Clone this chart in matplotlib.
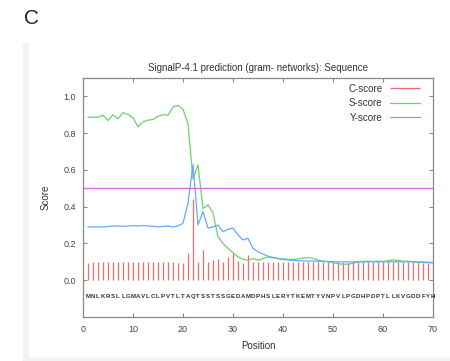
import numpy as np
import matplotlib
matplotlib.use("Agg")
import matplotlib.pyplot as plt
from matplotlib.patches import Rectangle

plt.rcParams['font.family'] = ['Liberation Sans', 'DejaVu Sans']

sequence = "MNLKRSLLGMAVLCLPVTLTAQTSSTSSGEDAMDPHSLERYTKEMTYVNPVLPGDHPDPTLLKVGDDFYH"
positions = list(range(1, 71))

c_score = [0.095, 0.1, 0.1, 0.098, 0.097, 0.1, 0.1, 0.098, 0.1, 0.1,
           0.097, 0.1, 0.1, 0.1, 0.098, 0.1, 0.1, 0.1, 0.092, 0.095,
           0.149, 0.44, 0.1, 0.164, 0.1, 0.109, 0.118, 0.1, 0.124, 0.146,
           0.104, 0.095, 0.137, 0.1, 0.1, 0.098, 0.1, 0.1, 0.1, 0.1,
           0.1, 0.1, 0.1, 0.098, 0.1, 0.1, 0.1, 0.098, 0.1, 0.1,
           0.1, 0.1, 0.1, 0.1, 0.1, 0.098, 0.1, 0.1, 0.1, 0.1,
           0.1, 0.098, 0.1, 0.1, 0.098, 0.097, 0.098, 0.095, 0.095, 0.095]

s_score = [0.887, 0.887, 0.887, 0.898, 0.869, 0.9, 0.878, 0.911, 0.902, 0.884,
           0.834, 0.862, 0.871, 0.874, 0.892, 0.9, 0.898, 0.942, 0.951, 0.93,
           0.85, 0.55, 0.628, 0.39, 0.41, 0.366, 0.237, 0.2, 0.173, 0.149,
           0.128, 0.113, 0.109, 0.118, 0.109, 0.118, 0.127, 0.122, 0.118, 0.116,
           0.114, 0.113, 0.116, 0.12, 0.124, 0.118, 0.11, 0.104, 0.1, 0.095,
           0.09, 0.087, 0.087, 0.092, 0.1, 0.102, 0.104, 0.102, 0.104, 0.102,
           0.106, 0.11, 0.108, 0.104, 0.104, 0.1, 0.098, 0.096, 0.095, 0.095]

y_score = [0.29, 0.29, 0.29, 0.29, 0.292, 0.295, 0.295, 0.293, 0.295, 0.297,
           0.295, 0.297, 0.295, 0.293, 0.29, 0.293, 0.295, 0.29, 0.295, 0.31,
           0.42, 0.63, 0.3, 0.373, 0.284, 0.29, 0.3, 0.264, 0.277, 0.284,
           0.246, 0.219, 0.228, 0.173, 0.155, 0.142, 0.131, 0.124, 0.118, 0.113,
           0.11, 0.108, 0.106, 0.105, 0.104, 0.104, 0.103, 0.102, 0.102, 0.101,
           0.1, 0.1, 0.1, 0.1, 0.1, 0.1, 0.1, 0.1, 0.1, 0.1,
           0.1, 0.1, 0.1, 0.1, 0.1, 0.1, 0.1, 0.1, 0.098, 0.097]

threshold = 0.5

fig = plt.figure(figsize=(4.5, 3.61), dpi=100)
# light grey panel edge
fig.patches.append(Rectangle((23 / 450, 0), 5 / 450, 1 - 43 / 361, transform=fig.transFigure,
                             color='#f3f3f3', zorder=0))
fig.patches.append(Rectangle((23 / 450, 0), 1, 3 / 361, transform=fig.transFigure,
                             color='#f3f3f3', zorder=0))
fig.text(24 / 450, 1 - 18 / 361, "C", fontsize=15, va='center', ha='left', color='#222222')

ax = fig.add_axes([83 / 450, 44 / 361, 350 / 450, 239 / 361])

ax.vlines(positions, 0, c_score, color='#f26b6b', lw=0.9, label='C-score')
ax.plot(positions, s_score, color='#6fd06f', lw=0.9, label='S-score')
ax.plot(positions, y_score, color='#66aaff', lw=0.9, label='Y-score')
ax.axhline(threshold, color='#dd66ee', lw=1.0)

for p, aa in zip(positions, sequence):
    ax.text(p, -0.087, aa, fontsize=4.4, ha='center', va='center', color='#333333',
            fontweight='bold')

ax.set_xlim(0, 70)
ax.set_ylim(-0.2, 1.1)
ax.set_xticks(range(0, 71, 10))
ax.set_yticks([0.0, 0.2, 0.4, 0.6, 0.8, 1.0])
ax.set_yticklabels(['0.0', '0.2', '0.4', '0.6', '0.8', '1.0'])
ax.tick_params(direction='in', length=3, width=0.8, color='#888888', labelsize=6.5,
               labelcolor='#444444', top=True, right=True)
ax.tick_params(axis='x', pad=6)
ax.tick_params(axis='y', pad=5)
for s in ax.spines.values():
    s.set_color('#888888')
    s.set_linewidth(0.9)

ax.set_title("SignalP-4.1 prediction (gram- networks): Sequence", fontsize=7,
             color='#333333', pad=5)
ax.set_xlabel("Position", fontsize=7, color='#333333', labelpad=5)
ax.set_ylabel("Score", fontsize=7, color='#333333', labelpad=9)

leg = ax.legend(loc='upper right', frameon=False, markerfirst=False, fontsize=7,
                handlelength=3.1, labelspacing=0.45, borderaxespad=0.2,
                bbox_to_anchor=(0.98, 1.0))
for t in leg.get_texts():
    t.set_color('#333333')

fig.savefig("out.png", dpi=100)
